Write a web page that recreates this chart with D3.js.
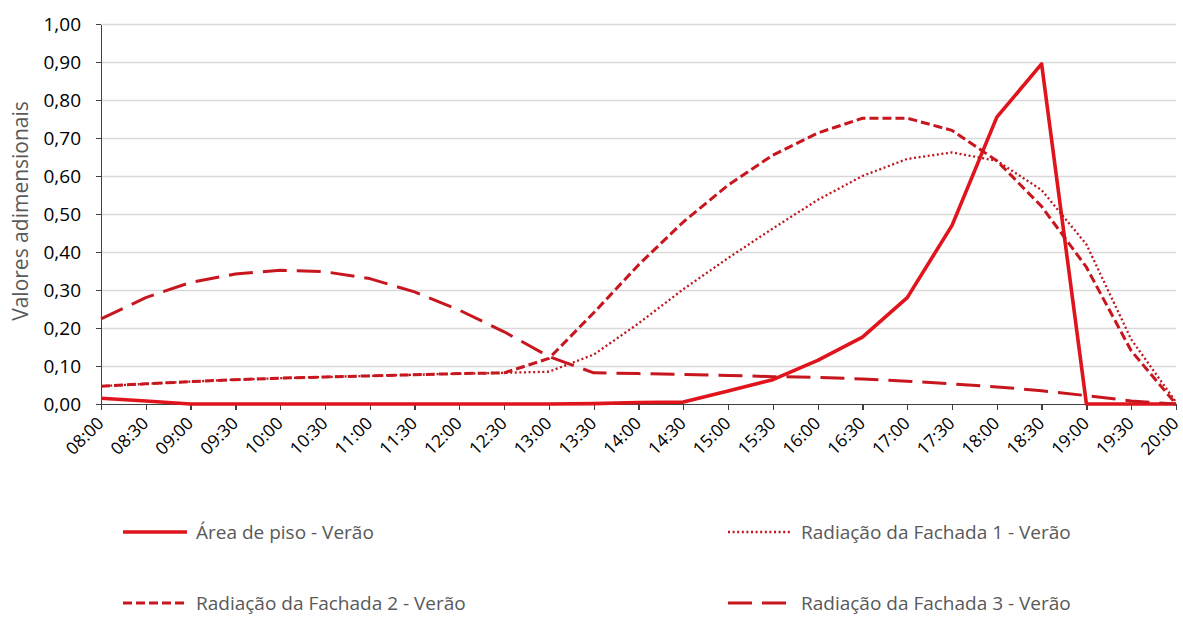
<!DOCTYPE html>
<html>
    <head>
        <meta charset="utf-8">
        <script src="https://d3js.org/d3.v7.min.js"></script>
        <style>
            body {
                margin: 0;
                background: #ffffff;
            }

            #chart-svg .font {
                font-family: "Open Sans", "Noto Sans", sans-serif;
                fill: #595959;
            }

            #chart-svg .y-axis text {
                font-size: 19px;
            }

            #chart-svg .x-axis text {
                font-size: 17.5px;
            }

            #chart-svg .y-title {
                font-size: 21px;
            }

            #chart-svg .legend-text {
                font-size: 19px;
            }

            #chart-svg .x-axis path,
            #chart-svg .y-axis path,
            #chart-svg .x-axis line,
            #chart-svg .y-axis line {
                stroke: #404040;
                stroke-width: 1.3;
                shape-rendering: crispEdges;
            }

            #chart-svg .grid line {
                stroke: #d9d9d9;
                stroke-width: 1.3;
            }

            #chart-svg .series {
                fill: none;
                stroke-linejoin: round;
            }
        </style>
    </head>
    <body>

        <script>

            const SVG_WIDTH = 1183;
            const SVG_HEIGHT = 617;
            const PLOT_LEFT = 101;
            const PLOT_RIGHT = 1176;
            const PLOT_TOP = 24;
            const PLOT_BOTTOM = 404;
            const Y_AXIS_LABEL = "Valores adimensionais";

            // categorias (eixo x)
            const TIME_LABELS = [
                "08:00", "08:30", "09:00", "09:30", "10:00", "10:30", "11:00",
                "11:30", "12:00", "12:30", "13:00", "13:30", "14:00", "14:30",
                "15:00", "15:30", "16:00", "16:30", "17:00", "17:30", "18:00",
                "18:30", "19:00", "19:30", "20:00"
            ];
            const Y_TICKS = [0, 0.1, 0.2, 0.3, 0.4, 0.5, 0.6, 0.7, 0.8, 0.9, 1.0];

            // series
            const AREA_PISO = [
                0.015, 0.008, 0.000, 0.000, 0.000, 0.000, 0.000, 0.000, 0.000,
                0.000, 0.000, 0.001, 0.004, 0.005, 0.034, 0.064, 0.115, 0.176,
                0.280, 0.470, 0.755, 0.895, 0.000, 0.000, 0.000
            ];
            const FACHADA_1 = [
                0.047, 0.053, 0.059, 0.064, 0.068, 0.071, 0.074, 0.077, 0.080,
                0.082, 0.085, 0.130, 0.212, 0.302, 0.384, 0.462, 0.537, 0.600,
                0.645, 0.662, 0.640, 0.563, 0.420, 0.170, 0.005
            ];
            const FACHADA_2 = [
                0.047, 0.053, 0.059, 0.064, 0.068, 0.071, 0.074, 0.077, 0.080,
                0.082, 0.120, 0.240, 0.366, 0.479, 0.576, 0.655, 0.713, 0.752,
                0.752, 0.720, 0.640, 0.520, 0.360, 0.140, 0.000
            ];
            const FACHADA_3 = [
                0.224, 0.280, 0.320, 0.342, 0.352, 0.348, 0.330, 0.295, 0.247,
                0.190, 0.125, 0.082, 0.080, 0.078, 0.075, 0.072, 0.070, 0.066,
                0.060, 0.053, 0.045, 0.035, 0.022, 0.008, 0.000
            ];

            const SERIES_NAMES = [
                "Área de piso - Verão",
                "Radiação da Fachada 1 - Verão",
                "Radiação da Fachada 2 - Verão",
                "Radiação da Fachada 3 - Verão"
            ];
            const SERIES_VALUES = [AREA_PISO, FACHADA_1, FACHADA_2, FACHADA_3];
            const SERIES_STYLE = [
                {color: "#e0141c", width: 3.6, dash: null},
                {color: "#bf141c", width: 2.3, dash: "2,2.6"},
                {color: "#c8161e", width: 3, dash: "9,4"},
                {color: "#c8161e", width: 3, dash: "24,10"}
            ];
            // posição da legenda: [x da linha, y]
            const LEGEND_POS = [
                [123, 532], [728, 532], [123, 603], [728, 603]
            ];

            var commaFormat = function(d) {
                return d3.format(".2f")(d).replace(".", ",");
            };

            var svg = d3.select("body")
                .append("svg")
                .attr("width", SVG_WIDTH)
                .attr("height", SVG_HEIGHT)
                .attr("id", "chart-svg");

            var xScale = d3.scalePoint()
                .domain(TIME_LABELS)
                .range([PLOT_LEFT, PLOT_RIGHT]);
            var yScale = d3.scaleLinear()
                .domain([0, 1])
                .range([PLOT_BOTTOM, PLOT_TOP]);

            // linhas de grade
            svg.append("g")
                .classed("grid", true)
                .selectAll("line")
                .data(Y_TICKS.filter(function(d) { return d > 0; }))
                .enter()
                .append("line")
                .attr("x1", PLOT_LEFT)
                .attr("x2", PLOT_RIGHT)
                .attr("y1", function(d) { return Math.round(yScale(d)) + 0.5; })
                .attr("y2", function(d) { return Math.round(yScale(d)) + 0.5; });

            var yAxis = d3.axisLeft(yScale)
                .tickValues(Y_TICKS)
                .tickSize(5)
                .tickSizeOuter(0)
                .tickPadding(15)
                .tickFormat(commaFormat);
            svg.append("g")
                .classed("y-axis font", true)
                .attr("transform", "translate(" + PLOT_LEFT + ",0)")
                .call(yAxis);

            var xAxis = d3.axisBottom(xScale)
                .tickSize(6)
                .tickSizeOuter(0);
            var xAxisGroup = svg.append("g")
                .classed("x-axis font", true)
                .attr("transform", "translate(0," + PLOT_BOTTOM + ")")
                .call(xAxis);
            xAxisGroup.selectAll("text")
                .attr("x", 0)
                .attr("y", 0)
                .attr("dy", "0.35em")
                .attr("transform", "translate(-1,16) rotate(-45)")
                .style("text-anchor", "end");

            svg.append("text")
                .classed("font y-title", true)
                .attr("transform", "translate(28,211) rotate(-90)")
                .attr("text-anchor", "middle")
                .text(Y_AXIS_LABEL);

            // séries
            for (var i = 0; i < SERIES_VALUES.length; i++) {
                var style = SERIES_STYLE[i];
                var line = d3.line()
                    .x(function(d, j) { return xScale(TIME_LABELS[j]); })
                    .y(function(d) { return yScale(d); });
                svg.append("path")
                    .datum(SERIES_VALUES[i])
                    .classed("series", true)
                    .attr("stroke", style.color)
                    .attr("stroke-width", style.width)
                    .attr("stroke-dasharray", style.dash)
                    .attr("d", line);
            }

            // legenda
            var legend = svg.selectAll(".legend-item")
                .data(SERIES_NAMES)
                .enter()
                .append("g")
                .classed("legend-item", true)
                .attr("transform", function(d, i) {
                    return "translate(" + LEGEND_POS[i][0] + "," + LEGEND_POS[i][1] + ")";
                });
            legend.append("line")
                .attr("x1", 0)
                .attr("x2", 64)
                .attr("y1", 0)
                .attr("y2", 0)
                .attr("stroke", function(d, i) { return SERIES_STYLE[i].color; })
                .attr("stroke-width", function(d, i) { return SERIES_STYLE[i].width; })
                .attr("stroke-dasharray", function(d, i) { return SERIES_STYLE[i].dash; });
            legend.append("text")
                .classed("font legend-text", true)
                .attr("x", 73)
                .attr("y", 0)
                .attr("dy", "0.35em")
                .text(function(d) { return d; });
        </script>
    </body>
</html>
